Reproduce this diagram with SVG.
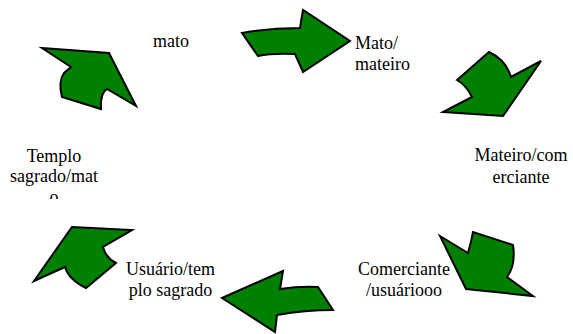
<svg xmlns="http://www.w3.org/2000/svg" width="573" height="334" viewBox="0 0 573 334">
<style>
.lbl{font-family:'Liberation Serif','Times New Roman','DejaVu Serif',serif;font-size:18px;fill:#000}
.arr{fill:#008000;stroke:#000;stroke-width:2;stroke-linejoin:miter}
</style>
<defs>
<clipPath id="clipTemplo"><rect x="0" y="140" width="110" height="59"/></clipPath>
</defs>
<rect width="573" height="334" fill="#fff"/>
<g id="connectors">
<path class="arr" d="M42,48 L109,53 L136,106 L107,89 Q100,93 101,109 L62,97 Q58,81 64,73 L71,67 Z"/>
<path class="arr" d="M242,33 Q270,28 300,28 L303,10 L350,41 L303,72 L295,54 Q272,53 258,56 Z"/>
<path class="arr" d="M489,52 Q506,60 511,77 L541,61 L503,116 L443,112 L472,97 Q466,85 457,80 Z"/>
<path class="arr" d="M440,236 L468,253 Q471,243 473,232 L513,245 Q516,265 507,277 L533,296 L466,289 Z"/>
<path class="arr" d="M222,298 L283,271 L280,289 Q300,286 318,287 L333,310 Q305,310 277,315 L275,332 Z"/>
<path class="arr" d="M72,227 L132,230 L103,247 Q106,258 116,263 L86,288 Q69,280 65,267 L34,281 Z"/>
</g>
<g id="mato"><text class="lbl" font-family="Liberation Serif, serif" x="153" y="47">mato</text></g>
<g id="mato-mateiro"><text class="lbl" x="355" y="48.5">Mato/</text><text class="lbl" x="355" y="69.5">mateiro</text></g>
<g id="mateiro-comerciante"><text class="lbl" text-anchor="middle" x="521" y="161">Mateiro/com</text><text class="lbl" text-anchor="middle" x="521" y="182.5">erciante</text></g>
<g id="comerciante-usuario"><text class="lbl" text-anchor="middle" x="404" y="275">Comerciante</text><text class="lbl" text-anchor="middle" x="404" y="296">/usuáriooo</text></g>
<g id="usuario-templo"><text class="lbl" text-anchor="middle" x="170.5" y="275">Usuário/tem</text><text class="lbl" text-anchor="middle" x="170.5" y="296">plo sagrado</text></g>
<g id="templo-mato" clip-path="url(#clipTemplo)"><text class="lbl" text-anchor="middle" x="54" y="161.5">Templo</text><text class="lbl" text-anchor="middle" x="54" y="182">sagrado/mat</text><text class="lbl" text-anchor="middle" x="54" y="203">o</text></g>
</svg>
